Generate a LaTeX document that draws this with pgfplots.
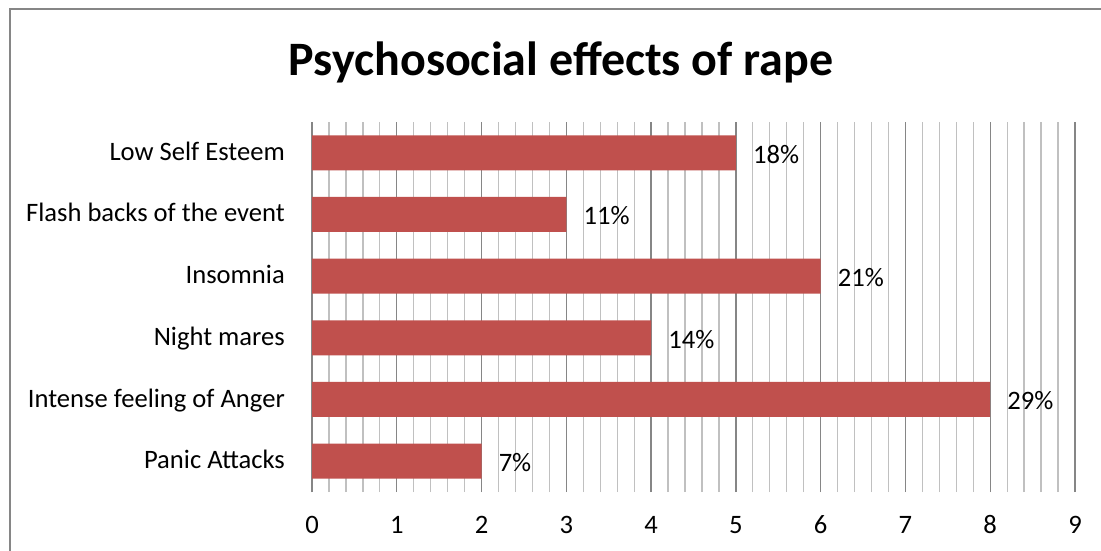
\documentclass[border=0pt]{standalone}
\usepackage{fontspec}
\setmainfont{Carlito}
\usepackage{pgfplots}
\pgfplotsset{compat=1.18}
\usepackage{pgfplotstable}
\definecolor{barred}{HTML}{C0504D}
\definecolor{majgrid}{HTML}{868686}
\definecolor{mingrid}{HTML}{C0C0C0}
\definecolor{framec}{HTML}{868686}
\pgfplotstableread{
y value pct
1 2 7
2 8 29
3 4 14
4 6 21
5 3 11
6 5 18
}\datatable

\begin{document}
\begin{tikzpicture}
\path[use as bounding box] (0bp,0bp) rectangle (1101bp,551bp);
\fill[white] (0bp,0bp) rectangle (1101bp,551bp);
\draw[framec, line width=2bp] (9.5bp,-20bp) -- (9.5bp,541.5bp) -- (1120bp,541.5bp);
\node[anchor=base, inner sep=0pt, font=\fontsize{48bp}{57bp}\selectfont\bfseries] at (561bp,475bp) {Psychosocial effects of rape};
\begin{axis}[
  at={(312bp,59bp)}, anchor=south west,
  scale only axis, width=763bp, height=370bp,
  xmin=0, xmax=9, ymin=0.5, ymax=6.5,
  xbar, bar width=35bp,
  xtick={0,...,9}, minor x tick num=4,
  ytick={1,...,6},
  yticklabels={Panic Attacks, Intense feeling of Anger, Night mares, Insomnia, Flash backs of the event, Low Self Esteem},
  xmajorgrids, xminorgrids,
  major grid style={majgrid, line width=1.3bp},
  minor grid style={mingrid, line width=1.3bp},
  axis x line=bottom, axis y line=left,
  x axis line style={draw=none},
  y axis line style={majgrid, line width=1.5bp, -},
  major tick length=0pt, minor tick length=0pt,
  /pgf/number format/assume math mode=true,
  ticklabel style={font=\fontsize{26.6bp}{32bp}\selectfont, text=black},
  xticklabel style={anchor=center, inner sep=0pt, yshift=-33bp},
  yticklabel style={anchor=base east, inner sep=0pt, xshift=-27bp, yshift=-7.5bp},
  point meta=explicit,
  nodes near coords={\pgfmathprintnumber{\pgfplotspointmeta}\%},
  nodes near coords style={anchor=west, inner sep=0pt, xshift=17bp, yshift=-1.5bp, font=\fontsize{26.6bp}{32bp}\selectfont, text=black},
]
\addplot[fill=barred, draw=none] table[x=value, y=y, meta=pct] {\datatable};
\end{axis}
\end{tikzpicture}
\end{document}
